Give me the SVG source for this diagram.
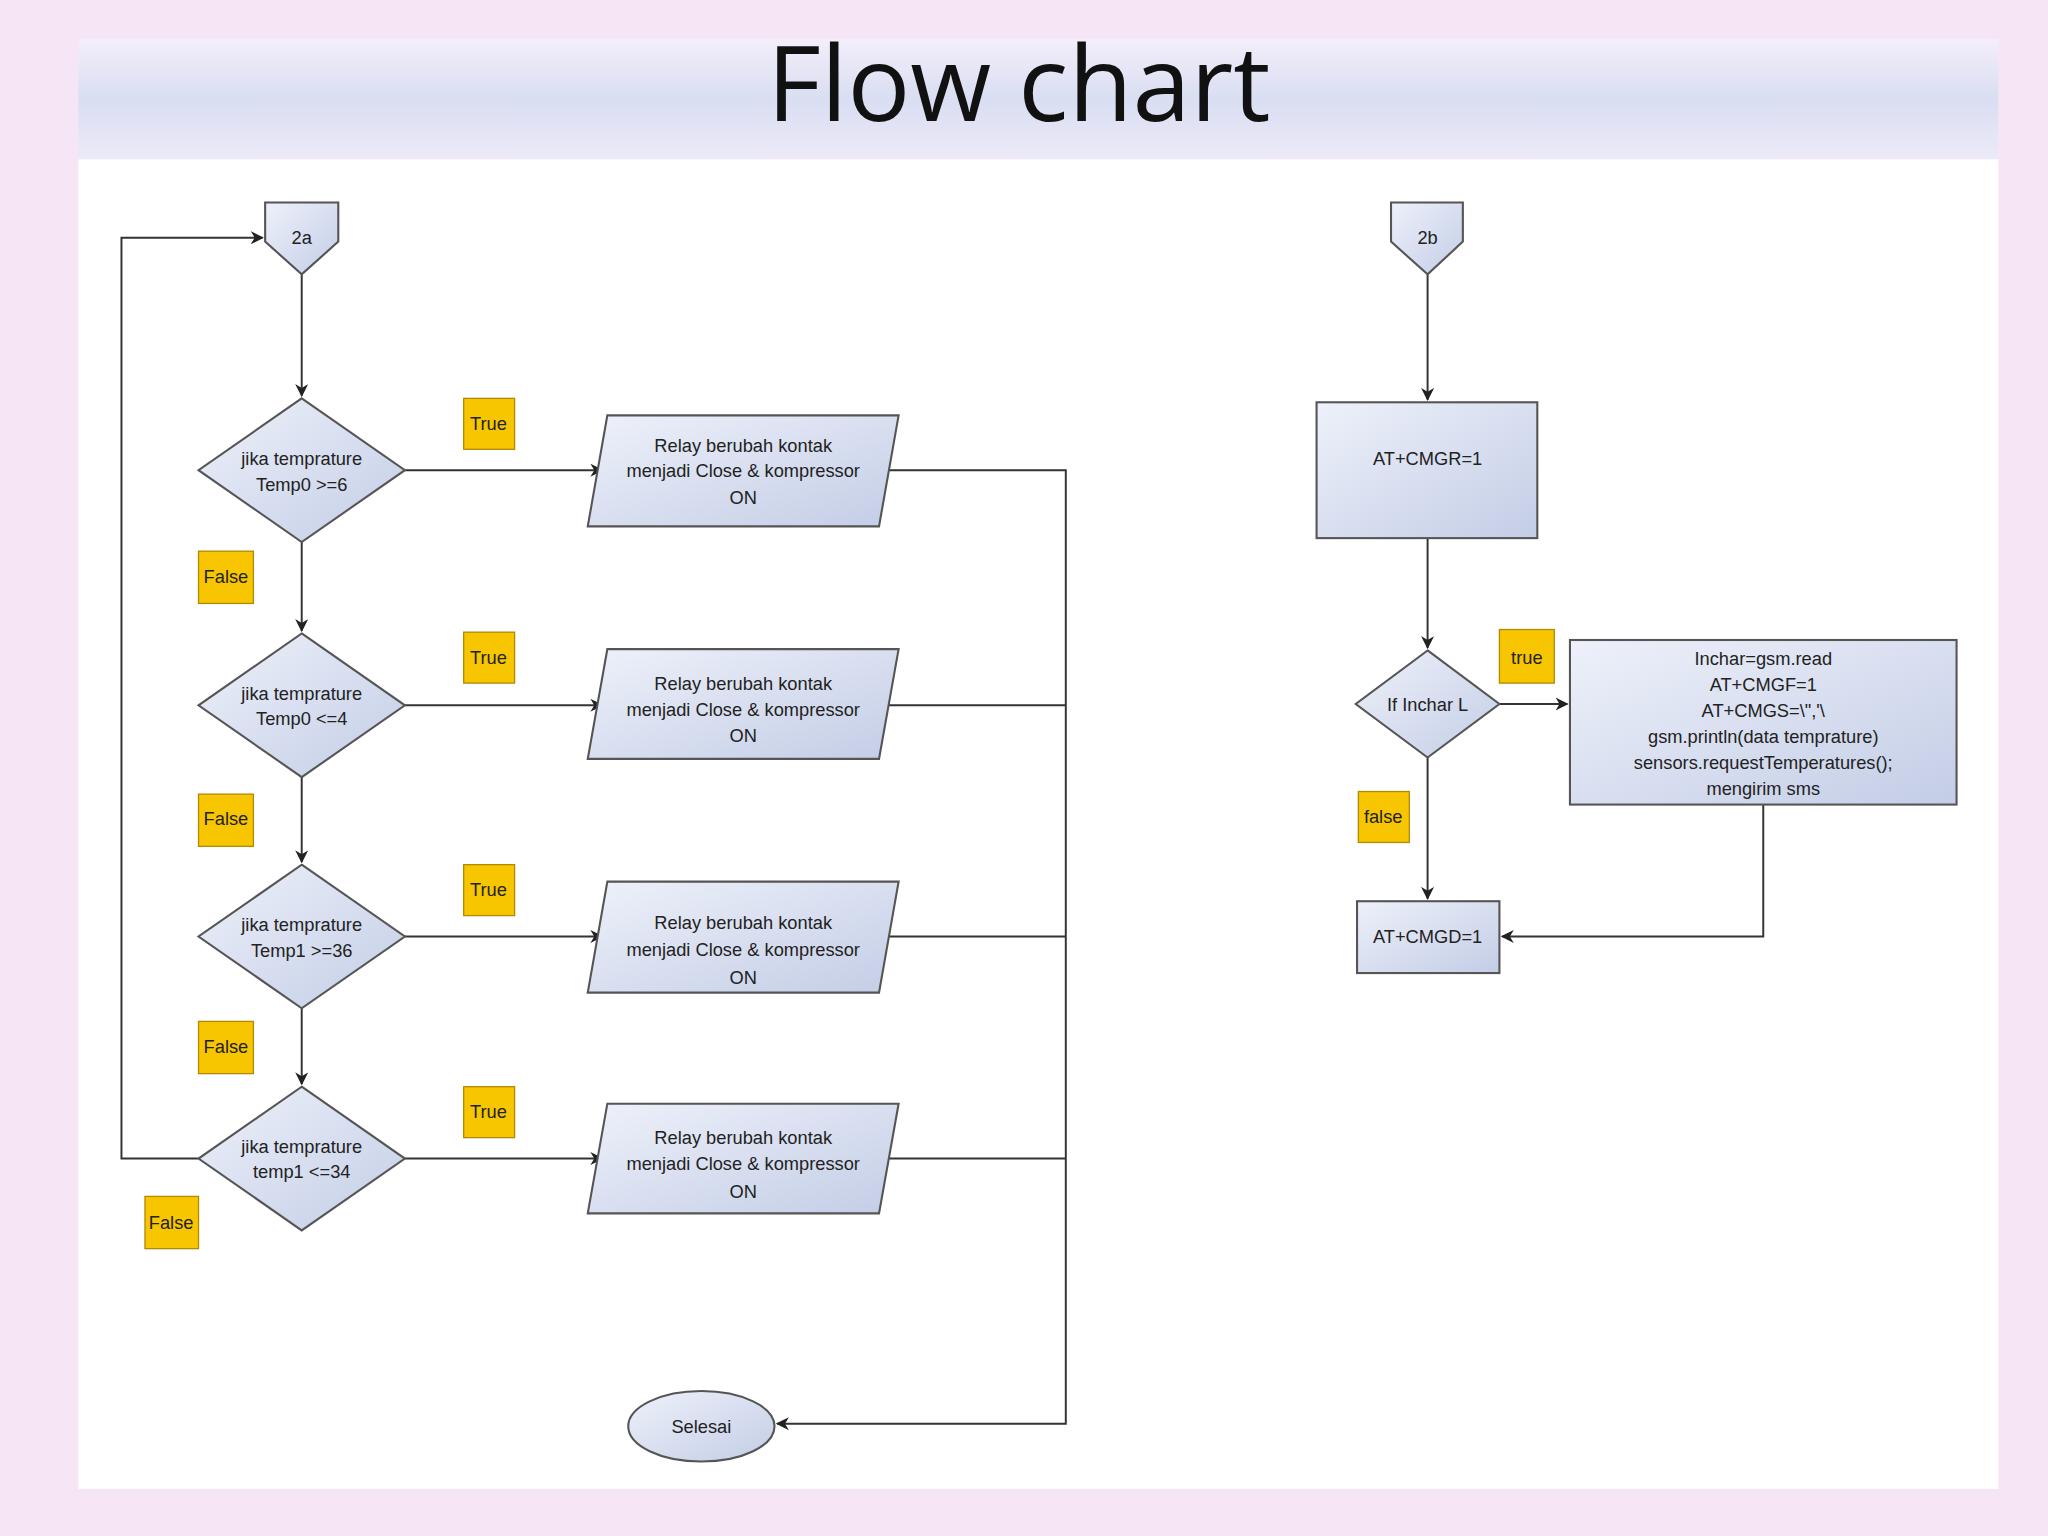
<svg xmlns="http://www.w3.org/2000/svg" width="2048" height="1536" viewBox="0 0 2048 1536">
<defs>
<linearGradient id="g" x1="0" y1="0" x2="1" y2="1"><stop offset="0" stop-color="#eef1fa"/><stop offset="1" stop-color="#c3cde6"/></linearGradient>
<linearGradient id="tb" x1="0" y1="0" x2="0" y2="1"><stop offset="0" stop-color="#f3eefa"/><stop offset="0.5" stop-color="#d9def2"/><stop offset="1" stop-color="#eceaf8"/></linearGradient>
<marker id="a" markerWidth="10" markerHeight="10" refX="9" refY="5" orient="auto" markerUnits="userSpaceOnUse"><path d="M0,0 L10,5 L0,10 L3,5 z" fill="#222"/></marker>
<style>
.s{fill:url(#g);stroke:#555;stroke-width:1.6}
.l{fill:none;stroke:#333;stroke-width:1.5}
.y{fill:#f8c600;stroke:#b08a00;stroke-width:1}
.t{font-family:"Liberation Sans",Arial,sans-serif;font-size:14px;fill:#222;text-anchor:middle}
</style>
</defs>
<rect width="2048" height="1536" fill="#f6e6f5"/>
<g transform="scale(1.30612)">
<rect x="60" y="30" width="1470" height="92" fill="url(#tb)"/>
<text x="780" y="93" font-family="'Open Sans','Liberation Sans',sans-serif" font-size="80" text-anchor="middle" fill="#111">Flow chart</text>
<rect x="60" y="122" width="1470" height="1018" fill="#fff"/>
<g id="connectors">
<path class="l" d="M152,887 H93 V182 H201" marker-end="url(#a)"/>
<path class="l" d="M231,210 V303" marker-end="url(#a)"/>
<path class="l" d="M231,415 V483" marker-end="url(#a)"/>
<path class="l" d="M231,595 V660" marker-end="url(#a)"/>
<path class="l" d="M231,772 V830" marker-end="url(#a)"/>
<path class="l" d="M310,360 H461" marker-end="url(#a)"/>
<path class="l" d="M310,540 H461" marker-end="url(#a)"/>
<path class="l" d="M310,717 H461" marker-end="url(#a)"/>
<path class="l" d="M310,887 H461" marker-end="url(#a)"/>
<path class="l" d="M680,360 H816 V1090 H595" marker-end="url(#a)"/>
<path class="l" d="M676,540 H816"/>
<path class="l" d="M676,717 H816"/>
<path class="l" d="M676,887 H816"/>
<path class="l" d="M1093,210 V306" marker-end="url(#a)"/>
<path class="l" d="M1093,412 V496" marker-end="url(#a)"/>
<path class="l" d="M1148,539 H1200" marker-end="url(#a)"/>
<path class="l" d="M1093,580 V688" marker-end="url(#a)"/>
<path class="l" d="M1350,616 V717 H1150" marker-end="url(#a)"/>
</g>
<g id="n2a"><path class="s" d="M203,155 H259 V185 L231,210 L203,185 Z"/><text class="t" x="231" y="187">2a</text></g>
<g id="d1"><path class="s" d="M231,305 L310,360 L231,415 L152,360 Z"/><text class="t" x="231" y="356">jika temprature</text><text class="t" x="231" y="376">Temp0 &gt;=6</text></g>
<g id="d2"><path class="s" d="M231,485 L310,540 L231,595 L152,540 Z"/><text class="t" x="231" y="536">jika temprature</text><text class="t" x="231" y="555">Temp0 &lt;=4</text></g>
<g id="d3"><path class="s" d="M231,662 L310,717 L231,772 L152,717 Z"/><text class="t" x="231" y="713">jika temprature</text><text class="t" x="231" y="733">Temp1 &gt;=36</text></g>
<g id="d4"><path class="s" d="M231,832 L310,887 L231,942 L152,887 Z"/><text class="t" x="231" y="883">jika temprature</text><text class="t" x="231" y="902">temp1 &lt;=34</text></g>
<g id="p1"><path class="s" d="M465,318 H688 L673,403 H450 Z"/><text class="t" x="569" y="346">Relay berubah kontak</text><text class="t" x="569" y="365">menjadi Close &amp; kompressor</text><text class="t" x="569" y="386">ON</text></g>
<g id="p2"><path class="s" d="M465,497 H688 L673,581 H450 Z"/><text class="t" x="569" y="528">Relay berubah kontak</text><text class="t" x="569" y="548">menjadi Close &amp; kompressor</text><text class="t" x="569" y="568">ON</text></g>
<g id="p3"><path class="s" d="M465,675 H688 L673,760 H450 Z"/><text class="t" x="569" y="711">Relay berubah kontak</text><text class="t" x="569" y="732">menjadi Close &amp; kompressor</text><text class="t" x="569" y="753">ON</text></g>
<g id="p4"><path class="s" d="M465,845 H688 L673,929 H450 Z"/><text class="t" x="569" y="876">Relay berubah kontak</text><text class="t" x="569" y="896">menjadi Close &amp; kompressor</text><text class="t" x="569" y="917">ON</text></g>
<g id="selesai"><ellipse class="s" cx="537" cy="1092" rx="56" ry="27"/><text class="t" x="537" y="1097">Selesai</text></g>
<g id="labels">
<rect class="y" x="355" y="305" width="39" height="39"/><text class="t" x="374" y="329">True</text>
<rect class="y" x="355" y="484" width="39" height="39"/><text class="t" x="374" y="508">True</text>
<rect class="y" x="355" y="662" width="39" height="39"/><text class="t" x="374" y="686">True</text>
<rect class="y" x="355" y="832" width="39" height="39"/><text class="t" x="374" y="856">True</text>
<rect class="y" x="152" y="422" width="42" height="40"/><text class="t" x="173" y="446">False</text>
<rect class="y" x="152" y="608" width="42" height="40"/><text class="t" x="173" y="632">False</text>
<rect class="y" x="152" y="782" width="42" height="40"/><text class="t" x="173" y="806">False</text>
<rect class="y" x="111" y="916" width="41" height="40"/><text class="t" x="131" y="941">False</text>
<rect class="y" x="1148" y="482" width="42" height="41"/><text class="t" x="1169" y="508">true</text>
<rect class="y" x="1040" y="606" width="39" height="39"/><text class="t" x="1059" y="630">false</text>
</g>
<g id="n2b"><path class="s" d="M1065,155 H1120 V185 L1093,210 L1065,185 Z"/><text class="t" x="1093" y="187">2b</text></g>
<g id="cmgr"><rect class="s" x="1008" y="308" width="169" height="104"/><text class="t" x="1093" y="356">AT+CMGR=1</text></g>
<g id="dinchar"><path class="s" d="M1093,498 L1148,539 L1093,580 L1038,539 Z"/><text class="t" x="1093" y="544">If Inchar L</text></g>
<g id="sms"><rect class="s" x="1202" y="490" width="296" height="126"/>
<text class="t" x="1350" y="509">Inchar=gsm.read</text><text class="t" x="1350" y="529">AT+CMGF=1</text><text class="t" x="1350" y="549">AT+CMGS=\",'\</text><text class="t" x="1350" y="569">gsm.println(data temprature)</text><text class="t" x="1350" y="589">sensors.requestTemperatures();</text><text class="t" x="1350" y="609">mengirim sms</text></g>
<g id="cmgd"><rect class="s" x="1039" y="690" width="109" height="55"/><text class="t" x="1093" y="722">AT+CMGD=1</text></g>
</g>
</svg>
